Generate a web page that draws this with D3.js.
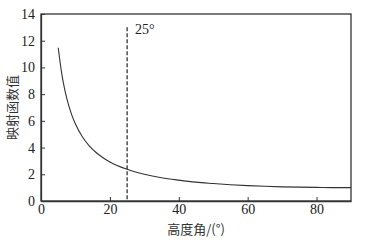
<!DOCTYPE html>
<html>
<head>
<meta charset="utf-8">
<script src="https://cdn.jsdelivr.net/npm/d3@7"></script>
<style>
body { margin: 0; background: #fff; }
svg text { font-family: "Liberation Serif", "DejaVu Serif", serif; }
</style>
</head>
<body>
<script>
// heights (deg) and mapping values
const angles = [5, 6, 7, 8, 9, 10, 12, 14, 16, 18, 20, 25, 30, 35, 40, 45, 50, 55, 60, 65, 70, 75, 80, 85, 90];
const values = [11.47, 9.57, 8.2, 7.19, 6.39, 5.76, 4.81, 4.13, 3.63, 3.24, 2.92, 2.37, 2.0, 1.74, 1.56, 1.41, 1.31, 1.22, 1.15, 1.1, 1.06, 1.04, 1.02, 1.0, 1.0];
const xTicks = [0, 20, 40, 60, 80];
const yTicks = [0, 2, 4, 6, 8, 10, 12, 14];
const markAngle = 25;
const markTop = 13;

const W = 365, H = 242;
const margin = {top: 14, right: 14, bottom: 41, left: 41};
const w = W - margin.left - margin.right;
const h = H - margin.top - margin.bottom;
const serif = '"Liberation Serif", "DejaVu Serif", serif';

const svg = d3.select('body').append('svg')
    .attr('width', W)
    .attr('height', H);

const g = svg.append('g')
    .attr('transform', 'translate(' + margin.left + ',' + margin.top + ')');

const x = d3.scaleLinear().domain([0, 90]).range([0, w]);
const y = d3.scaleLinear().domain([0, 14]).range([h, 0]);

// frame
g.append('rect')
    .attr('width', w).attr('height', h)
    .attr('fill', 'none').attr('stroke', '#333').attr('stroke-width', 1.3);

const xAxis = g.append('g')
    .attr('transform', 'translate(0,' + h + ')')
    .call(d3.axisBottom(x).tickValues(xTicks).tickSizeInner(-4).tickSizeOuter(0).tickPadding(3));
const yAxis = g.append('g')
    .call(d3.axisLeft(y).tickValues(yTicks).tickSizeInner(-4).tickSizeOuter(0).tickPadding(6));

[xAxis, yAxis].forEach(a => {
  a.attr('font-family', null);
  a.select('.domain').attr('stroke', '#333').attr('stroke-width', 1.3);
  a.selectAll('line').attr('stroke', '#333');
  a.selectAll('text').attr('fill', '#222')
    .style('font-size', '14px')
    .style('font-family', serif);
});

// dashed marker
g.append('line')
    .attr('x1', x(markAngle)).attr('x2', x(markAngle))
    .attr('y1', y(markTop)).attr('y2', h)
    .attr('stroke', '#222').attr('stroke-dasharray', '4,2').attr('stroke-width', 1.2);

g.append('text')
    .attr('x', x(markAngle) + 8).attr('y', y(markTop) + 7)
    .style('font-size', '14px').style('font-family', serif).attr('fill', '#222')
    .text('25°');

const line = d3.line()
    .x((d, i) => x(angles[i]))
    .y(d => y(d))
    .curve(d3.curveMonotoneX);

g.append('path')
    .datum(values)
    .attr('d', line)
    .attr('fill', 'none').attr('stroke', '#333').attr('stroke-width', 1.1);

// axis titles
svg.append('text')
    .attr('x', margin.left + w / 2).attr('y', 234)
    .attr('text-anchor', 'middle')
    .attr('font-size', 13).attr('fill', '#333')
    .style('font-family', '"Noto Sans CJK SC", sans-serif')
    .text('高度角/(°)');

svg.append('text')
    .attr('transform', 'translate(17,' + (margin.top + h / 2) + ') rotate(-90)')
    .attr('text-anchor', 'middle')
    .attr('font-size', 13).attr('fill', '#333')
    .style('font-family', '"Noto Sans CJK SC", sans-serif')
    .text('映射函数值');
</script>
</body>
</html>
